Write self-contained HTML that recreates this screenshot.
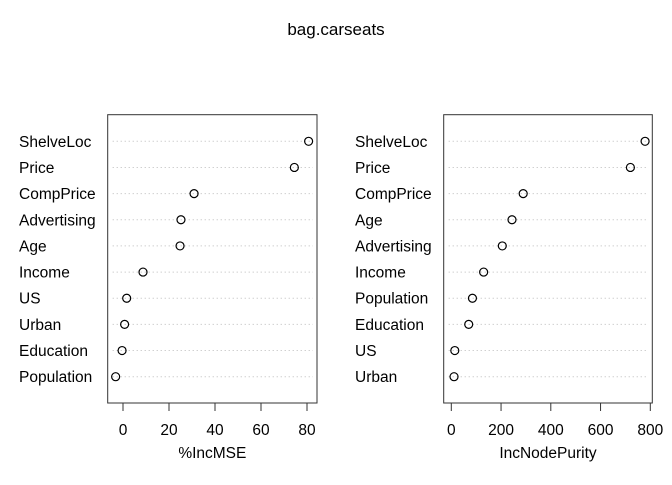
<!DOCTYPE html>
<html><head><meta charset="utf-8"><style>
body{margin:0;background:#fff}
svg text{font-family:"Liberation Sans",Arial,sans-serif;fill:#000}
</style></head><body>
<svg id="chart" width="672" height="480" xmlns="http://www.w3.org/2000/svg">
<text x="336" y="35" font-size="17" text-anchor="middle">bag.carseats</text>
</svg>
<script>
const leftNames=["ShelveLoc","Price","CompPrice","Advertising","Age","Income","US","Urban","Education","Population"];
const leftValues=[80.7,74.5,30.9,25.2,24.8,8.7,1.6,0.7,-0.4,-3.2];
const leftTicks=[0,20,40,60,80];
const rightNames=["ShelveLoc","Price","CompPrice","Age","Advertising","Income","Population","Education","US","Urban"];
const rightValues=[779,720,289,244,205,130,85,70,14,11];
const rightTicks=[0,200,400,600,800];
const NS="http://www.w3.org/2000/svg";
const svg=document.getElementById('chart');
function mk(tag,attrs,parent){const e=document.createElementNS(NS,tag);for(const k in attrs)e.setAttribute(k,attrs[k]);(parent||svg).appendChild(e);return e;}
function panel(cfg){
  const g=mk('g',{});
  
  
  const x=v=>cfg.x0+(v-cfg.t0)*(cfg.x1-cfg.x0)/(cfg.t1-cfg.t0);
  const n=cfg.names.length;
  const y=i=>141.3+i*(376.7-141.3)/(n-1);
  cfg.names.forEach((nm,i)=>{
    const l=mk('line',{x1:cfg.bl+5,x2:cfg.br-4,y1:y(i),y2:y(i),stroke:'#bbb','stroke-dasharray':'1 3'},g);
    
    
    const t=mk('text',{x:cfg.lx,y:y(i)+5.5,'font-size':15.5},g);t.textContent=nm;
    
    
    const c=mk('circle',{cx:x(cfg.values[i]),cy:y(i),r:4,fill:'none',stroke:'#000','stroke-width':1.2},g);
    
    
  });
  const r=mk('rect',{x:cfg.bl,y:114.7,width:cfg.br-cfg.bl,height:403-114.7,fill:'none',stroke:'#333','stroke-width':1},g);
  
  
  mk('line',{x1:x(cfg.ticks[0]),x2:x(cfg.ticks[cfg.ticks.length-1]),y1:403,y2:403,stroke:'#333'},g);
  cfg.ticks.forEach(tv=>{
    mk('line',{x1:x(tv),x2:x(tv),y1:403,y2:411,stroke:'#333'},g);
    const t=mk('text',{x:x(tv),y:435,'font-size':15.5,'text-anchor':'middle'},g);t.textContent=tv;
    
    
  });
  const xl=mk('text',{x:(cfg.bl+cfg.br)/2,y:458,'font-size':15.5,'text-anchor':'middle'},g);xl.textContent=cfg.xlab;
  
  
}
panel({name:'incmse-panel',names:leftNames,values:leftValues,ticks:leftTicks,t0:0,t1:80,x0:123,x1:307,bl:107.7,br:317,lx:19,xlab:'%IncMSE'});
panel({name:'incnodepurity-panel',names:rightNames,values:rightValues,ticks:rightTicks,t0:0,t1:800,x0:451.3,x1:650.3,bl:443.7,br:652.3,lx:355,xlab:'IncNodePurity'});
</script>
</body></html>
